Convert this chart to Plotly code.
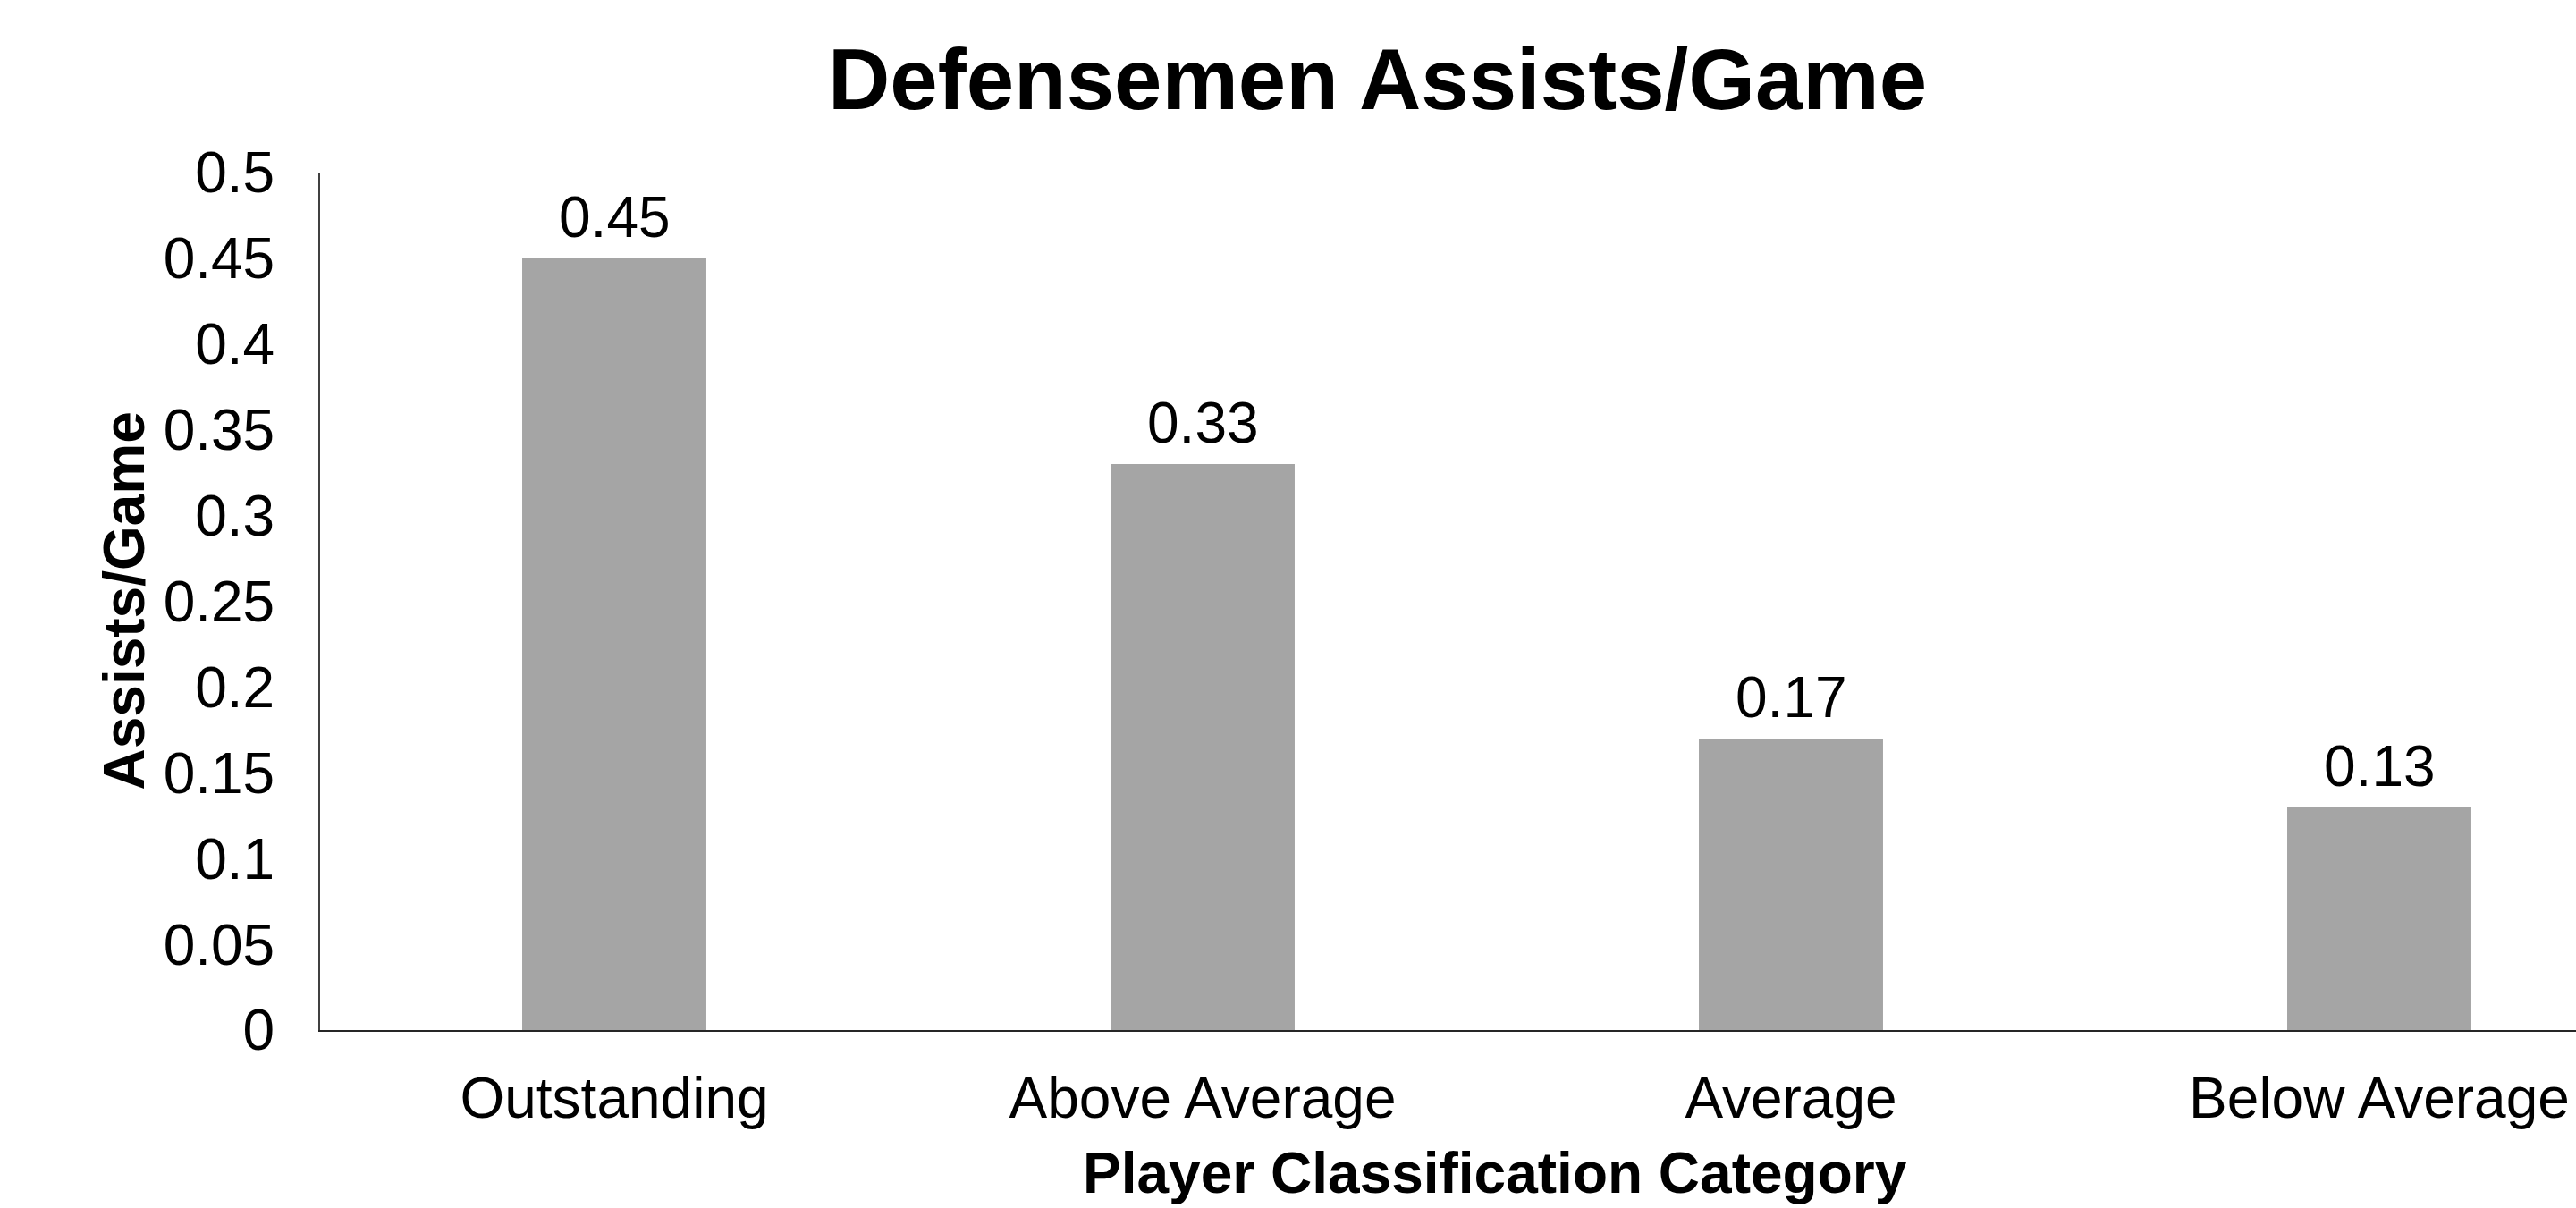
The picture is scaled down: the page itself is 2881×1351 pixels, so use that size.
import plotly.graph_objects as go

categories = ["Outstanding", "Above Average", "Average", "Below Average"]
values = [0.45, 0.33, 0.17, 0.13]
value_labels = ["0.45", "0.33", "0.17", "0.13"]
y_ticks = [0, 0.05, 0.1, 0.15, 0.2, 0.25, 0.3, 0.35, 0.4, 0.45, 0.5]
y_tick_text = ["0", "0.05", "0.1", "0.15", "0.2", "0.25", "0.3", "0.35", "0.4", "0.45", "0.5"]

W, H = 2881, 1351
L, R, T, B = 358, 0, 193, 199
FONT = "Liberation Sans, Arial, sans-serif"

fig = go.Figure()
fig.add_trace(go.Bar(
    x=categories, y=values, width=0.313,
    marker=dict(color="#A5A5A5", line=dict(width=0)),
    hoverinfo="x+y",
))

annotations = [
    dict(x=c, y=v, text=t, xref="x", yref="y", showarrow=False,
         xanchor="center", yanchor="bottom", yshift=8,
         font=dict(family=FONT, size=64, color="black"))
    for c, v, t in zip(categories, values, value_labels)
]

plot_w = W - L - R
plot_h = H - T - B
cat_px = 658.0
annotations += [
    dict(text="<b>Defensemen Assists/Game</b>", xref="paper", yref="paper",
         x=(1540 - L) / plot_w, y=1 + (T - 88) / plot_h,
         xanchor="center", yanchor="middle", showarrow=False,
         font=dict(family=FONT, size=96, color="black")),
    dict(text="<b>Player Classification Category</b>", xref="paper", yref="paper",
         x=(1672 - L) / plot_w, y=-(1312 - (H - B)) / plot_h,
         xanchor="center", yanchor="middle", showarrow=False,
         font=dict(family=FONT, size=64, color="black")),
    dict(text="<b>Assists/Game</b>", xref="paper", yref="paper",
         x=-(L - 138) / plot_w, y=0.5, textangle=-90,
         xanchor="center", yanchor="middle", showarrow=False,
         font=dict(family=FONT, size=64, color="black")),
]

fig.update_layout(
    width=W, height=H,
    margin=dict(l=L, r=R, t=T, b=B, pad=0),
    paper_bgcolor="white", plot_bgcolor="white",
    showlegend=False,
    font=dict(family=FONT, color="black"),
    xaxis=dict(
        range=[-0.5, -0.5 + plot_w / cat_px],
        showline=True, linecolor="#262626", linewidth=2,
        ticks="outside", ticklen=19, tickcolor="rgba(0,0,0,0)",
        tickfont=dict(family=FONT, size=64, color="black"),
        showgrid=False, zeroline=False,
    ),
    yaxis=dict(
        range=[0, 0.5],
        tickvals=y_ticks, ticktext=y_tick_text,
        showline=True, linecolor="#404040", linewidth=2,
        ticks="outside", ticklen=36, tickcolor="rgba(0,0,0,0)",
        tickfont=dict(family=FONT, size=64, color="black"),
        showgrid=False, zeroline=False,
    ),
    annotations=annotations,
)

fig.write_html(
    "out.html",
    config={"displayModeBar": False},
    post_script="document.body.style.margin='0';document.body.style.overflow='hidden';",
)
